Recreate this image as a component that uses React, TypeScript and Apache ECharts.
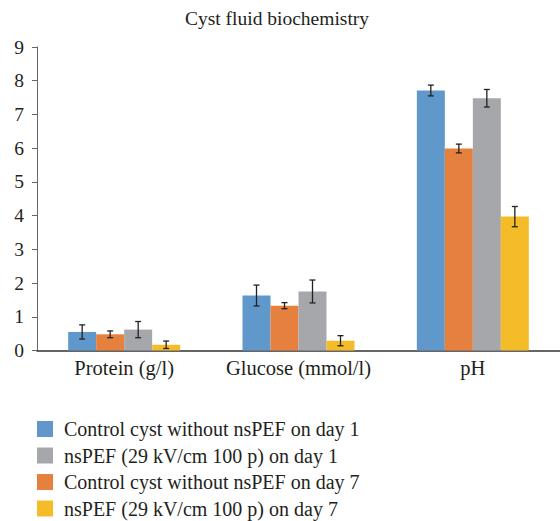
import React, { useEffect, useRef } from "react";
import * as echarts from "echarts";

const categories = ["Protein (g/l)", "Glucose (mmol/l)", "pH"];
const seriesNames = [
  "Control cyst without nsPEF on day 1",
  "Control cyst without nsPEF on day 7",
  "nsPEF (29 kV/cm 100 p) on day 1",
  "nsPEF (29 kV/cm 100 p) on day 7",
];
const legendOrder = [
  "Control cyst without nsPEF on day 1",
  "nsPEF (29 kV/cm 100 p) on day 1",
  "Control cyst without nsPEF on day 7",
  "nsPEF (29 kV/cm 100 p) on day 7",
];
const control1 = [0.55, 1.63, 7.71];
const control1Err = [0.21, 0.31, 0.16];
const control7 = [0.48, 1.33, 5.99];
const control7Err = [0.1, 0.09, 0.13];
const nspef1 = [0.62, 1.75, 7.48];
const nspef1Err = [0.24, 0.34, 0.26];
const nspef7 = [0.17, 0.29, 3.97];
const nspef7Err = [0.11, 0.15, 0.3];
const yTicks = [0, 1, 2, 3, 4, 5, 6, 7, 8, 9];

const colors = ["#6098CB", "#E5803E", "#A6A7AA", "#F5BC2A"];
const values = [control1, control7, nspef1, nspef7];
const errors = [control1Err, control7Err, nspef1Err, nspef7Err];
const FONT = "Liberation Serif";
const BAR_W = 28;

export default function App() {
  const ref = useRef<HTMLDivElement>(null);
  useEffect(() => {
    if (!ref.current) return;
    const chart = echarts.init(ref.current, null, { renderer: "svg" });
    const barSeries = values.map((v, i) => ({
      name: seriesNames[i],
      type: "bar",
      data: v,
      barWidth: BAR_W,
      barGap: "0%",
      itemStyle: { color: colors[i] },
      z: 2,
    }));
    const errSeries = values.map((v, i) => ({
      name: seriesNames[i] + " err",
      type: "custom",
      data: v.map((val, j) => [j, val - errors[i][j], val + errors[i][j]]),
      z: 5,
      silent: true,
      renderItem: (params: any, api: any) => {
        const cat = api.value(0);
        const lo = api.coord([cat, api.value(1)]);
        const hi = api.coord([cat, api.value(2)]);
        const offset = (i - 1.5) * BAR_W;
        const x = lo[0] + offset;
        const cap = 3;
        const style = { stroke: "#222", lineWidth: 1.3 };
        return {
          type: "group",
          children: [
            { type: "line", shape: { x1: x, y1: lo[1], x2: x, y2: hi[1] }, style },
            { type: "line", shape: { x1: x - cap, y1: lo[1], x2: x + cap, y2: lo[1] }, style },
            { type: "line", shape: { x1: x - cap, y1: hi[1], x2: x + cap, y2: hi[1] }, style },
          ],
        };
      },
    }));
    chart.setOption({
      animation: false,
      textStyle: { fontFamily: FONT },
      title: {
        text: "Cyst fluid biochemistry",
        left: 277,
        textAlign: "center",
        top: 8,
        padding: 0,
        textStyle: { fontFamily: FONT, fontSize: 19.5, fontWeight: "normal", color: "#231F20" },
      },
      legend: {
        data: legendOrder,
        orient: "vertical",
        left: 37,
        top: 419,
        height: 160,
        padding: 0,
        itemWidth: 16,
        itemHeight: 16,
        itemGap: 6.5,
        icon: "rect",
        selectedMode: false,
        textStyle: {
          fontFamily: FONT,
          fontSize: 20,
          color: "#231F20",
          padding: [0, 0, 0, 6],
        },
      },
      grid: { left: 37, right: 0, top: 47, bottom: 170.5, containLabel: false },
      xAxis: {
        type: "category",
        data: categories,
        axisLine: { lineStyle: { color: "#333", width: 1.5 } },
        axisTick: { show: false },
        axisLabel: { interval: 0, fontFamily: FONT, fontSize: 20.5, color: "#231F20", margin: 7 },
      },
      yAxis: {
        type: "value",
        min: yTicks[0],
        max: yTicks[yTicks.length - 1],
        interval: 1,
        splitLine: { show: false },
        axisLine: { show: true, lineStyle: { color: "#666", width: 1 } },
        axisTick: { show: true, length: 5, lineStyle: { color: "#666" } },
        axisLabel: { fontFamily: FONT, fontSize: 19.5, color: "#231F20", margin: 13 },
      },
      series: [...barSeries, ...errSeries],
    });
    return () => chart.dispose();
  }, []);
  return (
    <div
      ref={ref}
      style={{ position: "fixed", left: 0, top: 0, width: 560, height: 521, background: "#fff" }}
    />
  );
}
